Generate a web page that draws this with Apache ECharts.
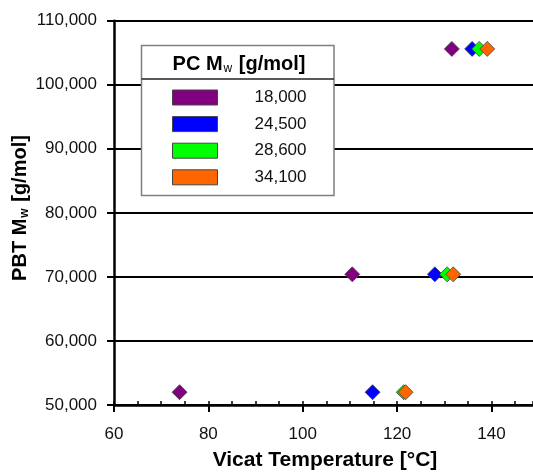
<!DOCTYPE html>
<html><head><meta charset="utf-8">
<script src="https://cdn.jsdelivr.net/npm/echarts@6/dist/echarts.min.js"></script>
<style>html,body{margin:0;padding:0;background:#fff}#c{width:533px;height:472px}</style>
</head><body><div id="c"></div>
<script>
const seriesNames = ['18,000', '24,500', '28,600', '34,100'];
const seriesColors = ['#800080', '#0000FF', '#00FF00', '#FF6600'];
const pbtMw = [52000, 70400, 105600];
const vicat18000 = [73.9, 110.5, 131.6];
const vicat24500 = [114.8, 128.0, 135.9];
const vicat28600 = [121.4, 130.6, 137.4];
const vicat34100 = [121.8, 131.9, 139.1];
const vicatAll = [vicat18000, vicat24500, vicat28600, vicat34100];
const yTicks = [50000, 60000, 70000, 80000, 90000, 100000, 110000];
const xTicks = [60, 80, 100, 120, 140];

const FONT = '"Liberation Sans", Arial, sans-serif';
const chart = echarts.init(document.getElementById('c'), null, {renderer: 'canvas'});

const series = vicatAll.map((xs, i) => ({
  name: seriesNames[i],
  type: 'scatter',
  xAxisIndex: 0,
  symbol: 'diamond',
  symbolSize: 15,
  itemStyle: {color: seriesColors[i], borderColor: '#444', borderWidth: 0.8, opacity: 1},
  data: xs.map((x, j) => [x, pbtMw[j]]),
  z: 3 + i
}));

chart.setOption({
  animation: false,
  backgroundColor: '#fff',
  textStyle: {fontFamily: FONT},
  grid: {left: 114, top: 20.7, right: 0, bottom: 67, containLabel: false},
  xAxis: [{
    type: 'value', min: 60, max: 148.8, interval: 20,
    axisLine: {show: true, onZero: false, lineStyle: {color: '#000', width: 2.5}},
    axisTick: {show: true, inside: false, length: 7, lineStyle: {color: '#000', width: 2}},
    axisLabel: {color: '#111', fontSize: 17, fontFamily: FONT, margin: 21, showMaxLabel: false,
      formatter: v => xTicks.includes(v) ? String(v) : ''},
    splitLine: {show: false}
  }, {
    type: 'value', min: 60, max: 148.8, interval: 5, position: 'bottom',
    axisLine: {show: false},
    axisTick: {show: true, inside: true, length: 4, lineStyle: {color: '#000', width: 1.5}},
    axisLabel: {show: false},
    splitLine: {show: false}
  }],
  yAxis: {
    type: 'value', min: 50000, max: 110000, interval: 10000,
    axisLine: {show: true, lineStyle: {color: '#000', width: 2.5}},
    axisTick: {show: true, inside: false, length: 7, lineStyle: {color: '#000', width: 2}},
    axisLabel: {color: '#111', fontSize: 17, fontFamily: FONT, margin: 17,
      formatter: v => yTicks.includes(v) ? v.toLocaleString('en-US') : ''},
    splitLine: {show: true, lineStyle: {color: '#000', width: 2}}
  },
  legend: {
    show: true,
    orient: 'vertical',
    left: 172, top: 89,
    padding: 0,
    itemWidth: 45, itemHeight: 15, itemGap: 9.6,
    icon: 'rect',
    itemStyle: {borderColor: '#444', borderWidth: 1},
    selectedMode: false,
    data: seriesNames,
    formatter: name => '{a|' + name + '}',
    textStyle: {fontFamily: FONT, fontSize: 17, color: '#111',
      rich: {a: {width: 84, align: 'right', fontSize: 17, fontFamily: FONT, color: '#111'}}}
  },
  graphic: [
    {type: 'rect', shape: {x: 141.5, y: 45.5, width: 192.5, height: 150}, z: 1,
      style: {fill: '#fff', stroke: '#7f7f7f', lineWidth: 1.5}},
    {type: 'line', shape: {x1: 141.5, y1: 79, x2: 334, y2: 79}, z: 2,
      style: {stroke: '#222', lineWidth: 1.5}},
    {type: 'text', x: 239, y: 64, z: 2,
      style: {text: '{b|PC M}{s|w}{b| [g/mol]}', textAlign: 'center', textVerticalAlign: 'middle',
        rich: {
          b: {fontFamily: FONT, fontWeight: 'bold', fontSize: 20, fill: '#000', color: '#000'},
          s: {fontFamily: FONT, fontWeight: 'normal', fontSize: 12, fill: '#000', color: '#000', padding: [9, 1, 0, 1]}
        }}},
    {type: 'text', x: 325, y: 460,
      style: {text: 'Vicat Temperature [°C]', textAlign: 'center', textVerticalAlign: 'middle',
        font: 'bold 21px ' + FONT, fill: '#000'}},
    {type: 'text', x: 20, y: 208, rotation: Math.PI / 2,
      style: {text: '{b|PBT M}{s|w}{b| [g/mol]}', textAlign: 'center', textVerticalAlign: 'middle',
        rich: {
          b: {fontFamily: FONT, fontWeight: 'bold', fontSize: 20, fill: '#000', color: '#000'},
          s: {fontFamily: FONT, fontWeight: 'bold', fontSize: 12, fill: '#000', color: '#000', padding: [9, 1, 0, 1]}
        }}}
  ],
  series: series
});
</script>
</body></html>
